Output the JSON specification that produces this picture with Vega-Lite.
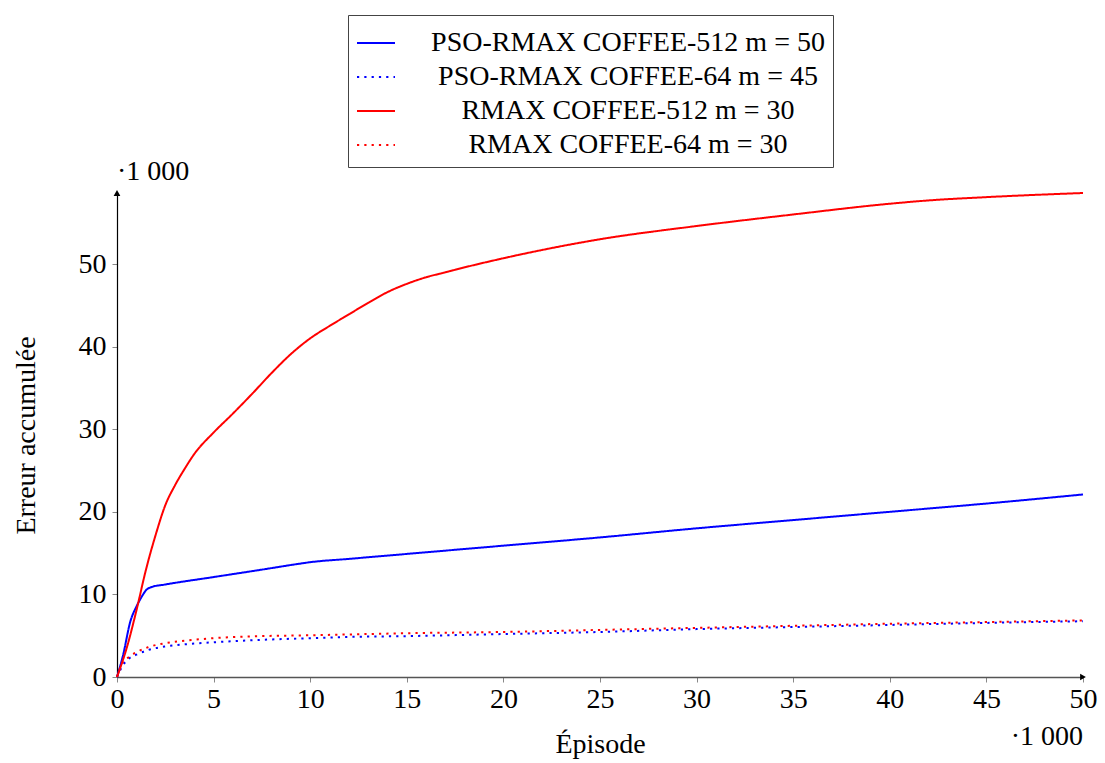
{
  "$schema": "https://vega.github.io/schema/vega-lite/v6.json",
  "width": 966,
  "height": 484,
  "autosize": {"type": "none"},
  "padding": {"left": 117, "top": 193, "right": 22, "bottom": 86},
  "background": "white",
  "config": {
    "font": "Liberation Serif",
    "view": {"stroke": null},
    "axis": {"labelFont": "Liberation Serif", "titleFont": "Liberation Serif", "grid": false}
  },
  "datasets": {
    "curves": [
      {"series": "PSO-RMAX COFFEE-512 m = 50", "x": 0, "y": 0},
      {"series": "PSO-RMAX COFFEE-512 m = 50", "x": 0.3, "y": 2.5},
      {"series": "PSO-RMAX COFFEE-512 m = 50", "x": 0.7, "y": 6.8},
      {"series": "PSO-RMAX COFFEE-512 m = 50", "x": 1, "y": 8.5},
      {"series": "PSO-RMAX COFFEE-512 m = 50", "x": 1.3, "y": 9.8},
      {"series": "PSO-RMAX COFFEE-512 m = 50", "x": 1.5, "y": 10.5},
      {"series": "PSO-RMAX COFFEE-512 m = 50", "x": 1.8, "y": 10.9},
      {"series": "PSO-RMAX COFFEE-512 m = 50", "x": 2.5, "y": 11.2},
      {"series": "PSO-RMAX COFFEE-512 m = 50", "x": 5, "y": 12.1},
      {"series": "PSO-RMAX COFFEE-512 m = 50", "x": 7.5, "y": 13},
      {"series": "PSO-RMAX COFFEE-512 m = 50", "x": 9.4, "y": 13.7},
      {"series": "PSO-RMAX COFFEE-512 m = 50", "x": 10, "y": 13.9},
      {"series": "PSO-RMAX COFFEE-512 m = 50", "x": 12, "y": 14.3},
      {"series": "PSO-RMAX COFFEE-512 m = 50", "x": 15, "y": 14.9},
      {"series": "PSO-RMAX COFFEE-512 m = 50", "x": 20, "y": 15.9},
      {"series": "PSO-RMAX COFFEE-512 m = 50", "x": 25, "y": 16.9},
      {"series": "PSO-RMAX COFFEE-512 m = 50", "x": 30, "y": 18.0},
      {"series": "PSO-RMAX COFFEE-512 m = 50", "x": 35, "y": 19.0},
      {"series": "PSO-RMAX COFFEE-512 m = 50", "x": 40, "y": 20.0},
      {"series": "PSO-RMAX COFFEE-512 m = 50", "x": 45, "y": 21.0},
      {"series": "PSO-RMAX COFFEE-512 m = 50", "x": 50, "y": 22.1},

      {"series": "PSO-RMAX COFFEE-64 m = 45", "x": 0, "y": 0},
      {"series": "PSO-RMAX COFFEE-64 m = 45", "x": 0.3, "y": 1.4},
      {"series": "PSO-RMAX COFFEE-64 m = 45", "x": 0.6, "y": 2.2},
      {"series": "PSO-RMAX COFFEE-64 m = 45", "x": 1, "y": 2.7},
      {"series": "PSO-RMAX COFFEE-64 m = 45", "x": 1.6, "y": 3.25},
      {"series": "PSO-RMAX COFFEE-64 m = 45", "x": 2.5, "y": 3.7},
      {"series": "PSO-RMAX COFFEE-64 m = 45", "x": 3.5, "y": 3.95},
      {"series": "PSO-RMAX COFFEE-64 m = 45", "x": 5, "y": 4.2},
      {"series": "PSO-RMAX COFFEE-64 m = 45", "x": 7.5, "y": 4.5},
      {"series": "PSO-RMAX COFFEE-64 m = 45", "x": 10, "y": 4.7},
      {"series": "PSO-RMAX COFFEE-64 m = 45", "x": 12, "y": 4.85},
      {"series": "PSO-RMAX COFFEE-64 m = 45", "x": 15, "y": 4.95},
      {"series": "PSO-RMAX COFFEE-64 m = 45", "x": 20, "y": 5.2},
      {"series": "PSO-RMAX COFFEE-64 m = 45", "x": 25, "y": 5.45},
      {"series": "PSO-RMAX COFFEE-64 m = 45", "x": 30, "y": 5.8},
      {"series": "PSO-RMAX COFFEE-64 m = 45", "x": 35, "y": 6.05},
      {"series": "PSO-RMAX COFFEE-64 m = 45", "x": 40, "y": 6.3},
      {"series": "PSO-RMAX COFFEE-64 m = 45", "x": 45, "y": 6.55},
      {"series": "PSO-RMAX COFFEE-64 m = 45", "x": 50, "y": 6.75},

      {"series": "RMAX COFFEE-512 m = 30", "x": 0, "y": 0},
      {"series": "RMAX COFFEE-512 m = 30", "x": 0.5, "y": 3.5},
      {"series": "RMAX COFFEE-512 m = 30", "x": 1, "y": 8},
      {"series": "RMAX COFFEE-512 m = 30", "x": 1.5, "y": 13},
      {"series": "RMAX COFFEE-512 m = 30", "x": 2, "y": 17.2},
      {"series": "RMAX COFFEE-512 m = 30", "x": 2.5, "y": 20.8},
      {"series": "RMAX COFFEE-512 m = 30", "x": 3, "y": 23.2},
      {"series": "RMAX COFFEE-512 m = 30", "x": 3.5, "y": 25.2},
      {"series": "RMAX COFFEE-512 m = 30", "x": 4, "y": 27},
      {"series": "RMAX COFFEE-512 m = 30", "x": 5, "y": 29.6},
      {"series": "RMAX COFFEE-512 m = 30", "x": 6, "y": 31.9},
      {"series": "RMAX COFFEE-512 m = 30", "x": 7, "y": 34.3},
      {"series": "RMAX COFFEE-512 m = 30", "x": 8, "y": 36.8},
      {"series": "RMAX COFFEE-512 m = 30", "x": 9, "y": 39.1},
      {"series": "RMAX COFFEE-512 m = 30", "x": 10, "y": 41},
      {"series": "RMAX COFFEE-512 m = 30", "x": 11, "y": 42.5},
      {"series": "RMAX COFFEE-512 m = 30", "x": 12, "y": 43.9},
      {"series": "RMAX COFFEE-512 m = 30", "x": 13, "y": 45.3},
      {"series": "RMAX COFFEE-512 m = 30", "x": 14, "y": 46.6},
      {"series": "RMAX COFFEE-512 m = 30", "x": 15, "y": 47.6},
      {"series": "RMAX COFFEE-512 m = 30", "x": 16, "y": 48.4},
      {"series": "RMAX COFFEE-512 m = 30", "x": 17, "y": 49.0},
      {"series": "RMAX COFFEE-512 m = 30", "x": 18, "y": 49.6},
      {"series": "RMAX COFFEE-512 m = 30", "x": 20, "y": 50.7},
      {"series": "RMAX COFFEE-512 m = 30", "x": 22, "y": 51.7},
      {"series": "RMAX COFFEE-512 m = 30", "x": 25, "y": 53.0},
      {"series": "RMAX COFFEE-512 m = 30", "x": 30, "y": 54.6},
      {"series": "RMAX COFFEE-512 m = 30", "x": 35, "y": 56.0},
      {"series": "RMAX COFFEE-512 m = 30", "x": 40, "y": 57.3},
      {"series": "RMAX COFFEE-512 m = 30", "x": 42, "y": 57.7},
      {"series": "RMAX COFFEE-512 m = 30", "x": 45, "y": 58.1},
      {"series": "RMAX COFFEE-512 m = 30", "x": 50, "y": 58.6},

      {"series": "RMAX COFFEE-64 m = 30", "x": 0, "y": 0},
      {"series": "RMAX COFFEE-64 m = 30", "x": 0.3, "y": 1.8},
      {"series": "RMAX COFFEE-64 m = 30", "x": 0.6, "y": 2.4},
      {"series": "RMAX COFFEE-64 m = 30", "x": 1, "y": 3.0},
      {"series": "RMAX COFFEE-64 m = 30", "x": 1.6, "y": 3.6},
      {"series": "RMAX COFFEE-64 m = 30", "x": 2.5, "y": 4.1},
      {"series": "RMAX COFFEE-64 m = 30", "x": 3.5, "y": 4.4},
      {"series": "RMAX COFFEE-64 m = 30", "x": 5, "y": 4.7},
      {"series": "RMAX COFFEE-64 m = 30", "x": 7.5, "y": 4.95},
      {"series": "RMAX COFFEE-64 m = 30", "x": 10, "y": 5.05},
      {"series": "RMAX COFFEE-64 m = 30", "x": 12, "y": 5.15},
      {"series": "RMAX COFFEE-64 m = 30", "x": 15, "y": 5.3},
      {"series": "RMAX COFFEE-64 m = 30", "x": 20, "y": 5.45},
      {"series": "RMAX COFFEE-64 m = 30", "x": 25, "y": 5.7},
      {"series": "RMAX COFFEE-64 m = 30", "x": 30, "y": 5.95},
      {"series": "RMAX COFFEE-64 m = 30", "x": 35, "y": 6.2},
      {"series": "RMAX COFFEE-64 m = 30", "x": 40, "y": 6.45},
      {"series": "RMAX COFFEE-64 m = 30", "x": 45, "y": 6.65},
      {"series": "RMAX COFFEE-64 m = 30", "x": 50, "y": 6.85}
    ],
    "arrows": [
      {"x": 0, "y": 58.6, "shape": "triangle-up"},
      {"x": 50, "y": 0, "shape": "triangle-right"}
    ],
    "scales": [
      {"x": 0, "y": 58.6, "label": "·1 000", "where": "y"},
      {"x": 50, "y": 0, "label": "·1 000", "where": "x"}
    ]
  },
  "layer": [
    {
      "data": {"name": "curves"},
      "mark": {"type": "line", "strokeWidth": 2, "clip": false, "interpolate": "monotone"},
      "encoding": {
        "x": {
          "field": "x", "type": "quantitative",
          "scale": {"domain": [0, 50], "nice": false, "zero": false},
          "axis": {
            "title": "Épisode", "titleFontSize": 28, "titleFontWeight": "normal", "titleColor": "black",
            "titlePadding": 17,
            "values": [0, 5, 10, 15, 20, 25, 30, 35, 40, 45, 50],
            "labelFontSize": 28, "labelColor": "black", "labelPadding": 3,
            "labelFlush": false, "labelOverlap": false,
            "tickColor": "#888", "tickSize": 5, "domainColor": "#555", "domainWidth": 1.6
          }
        },
        "y": {
          "field": "y", "type": "quantitative",
          "scale": {"domain": [0, 58.6], "nice": false},
          "axis": {
            "title": "Erreur accumulée", "titleFontSize": 28, "titleFontWeight": "normal", "titleColor": "black",
            "titlePadding": 38,
            "values": [0, 10, 20, 30, 40, 50],
            "labelFontSize": 28, "labelColor": "black", "labelPadding": 6,
            "labelFlush": false, "labelOverlap": false,
            "tickColor": "#888", "tickSize": 5, "domainColor": "black", "domainWidth": 1.2
          }
        },
        "color": {
          "field": "series", "type": "nominal",
          "scale": {
            "domain": ["PSO-RMAX COFFEE-512 m = 50", "PSO-RMAX COFFEE-64 m = 45", "RMAX COFFEE-512 m = 30", "RMAX COFFEE-64 m = 30"],
            "range": ["#0000ff", "#0000ff", "#ff0000", "#ff0000"]
          },
          "legend": {
            "title": null,
            "orient": "none",
            "legendX": 231,
            "legendY": -178,
            "direction": "vertical",
            "strokeColor": "#444",
            "fillColor": "white",
            "padding": 8,
            "symbolType": "stroke",
            "symbolSize": 1444,
            "symbolStrokeWidth": 2,
            "labelFontSize": 28,
            "labelFont": "Liberation Serif",
            "labelColor": "black",
            "labelLimit": 600,
            "labelAlign": "center",
            "labelOffset": 232,
            "rowPadding": 0
          }
        },
        "strokeDash": {
          "field": "series", "type": "nominal",
          "scale": {
            "domain": ["PSO-RMAX COFFEE-512 m = 50", "PSO-RMAX COFFEE-64 m = 45", "RMAX COFFEE-512 m = 30", "RMAX COFFEE-64 m = 30"],
            "range": [[1, 0], [2.2, 5.1], [1, 0], [2.2, 5.1]]
          },
          "legend": null
        }
      }
    },
    {
      "data": {"name": "arrows"},
      "mark": {"type": "point", "filled": true, "color": "black", "size": 45, "opacity": 1, "clip": false},
      "encoding": {
        "x": {"field": "x", "type": "quantitative"},
        "y": {"field": "y", "type": "quantitative"},
        "shape": {"field": "shape", "type": "nominal", "scale": null, "legend": null}
      }
    },
    {
      "data": {"name": "scales"},
      "transform": [{"filter": "datum.where === 'y'"}],
      "mark": {"type": "text", "align": "left", "baseline": "middle", "dy": -21, "dx": 0, "fontSize": 28, "font": "Liberation Serif", "color": "black"},
      "encoding": {
        "x": {"field": "x", "type": "quantitative"},
        "y": {"field": "y", "type": "quantitative"},
        "text": {"field": "label"}
      }
    },
    {
      "data": {"name": "scales"},
      "transform": [{"filter": "datum.where === 'x'"}],
      "mark": {"type": "text", "align": "right", "baseline": "middle", "dy": 60, "dx": 0, "fontSize": 28, "font": "Liberation Serif", "color": "black"},
      "encoding": {
        "x": {"field": "x", "type": "quantitative"},
        "y": {"field": "y", "type": "quantitative"},
        "text": {"field": "label"}
      }
    }
  ]
}
